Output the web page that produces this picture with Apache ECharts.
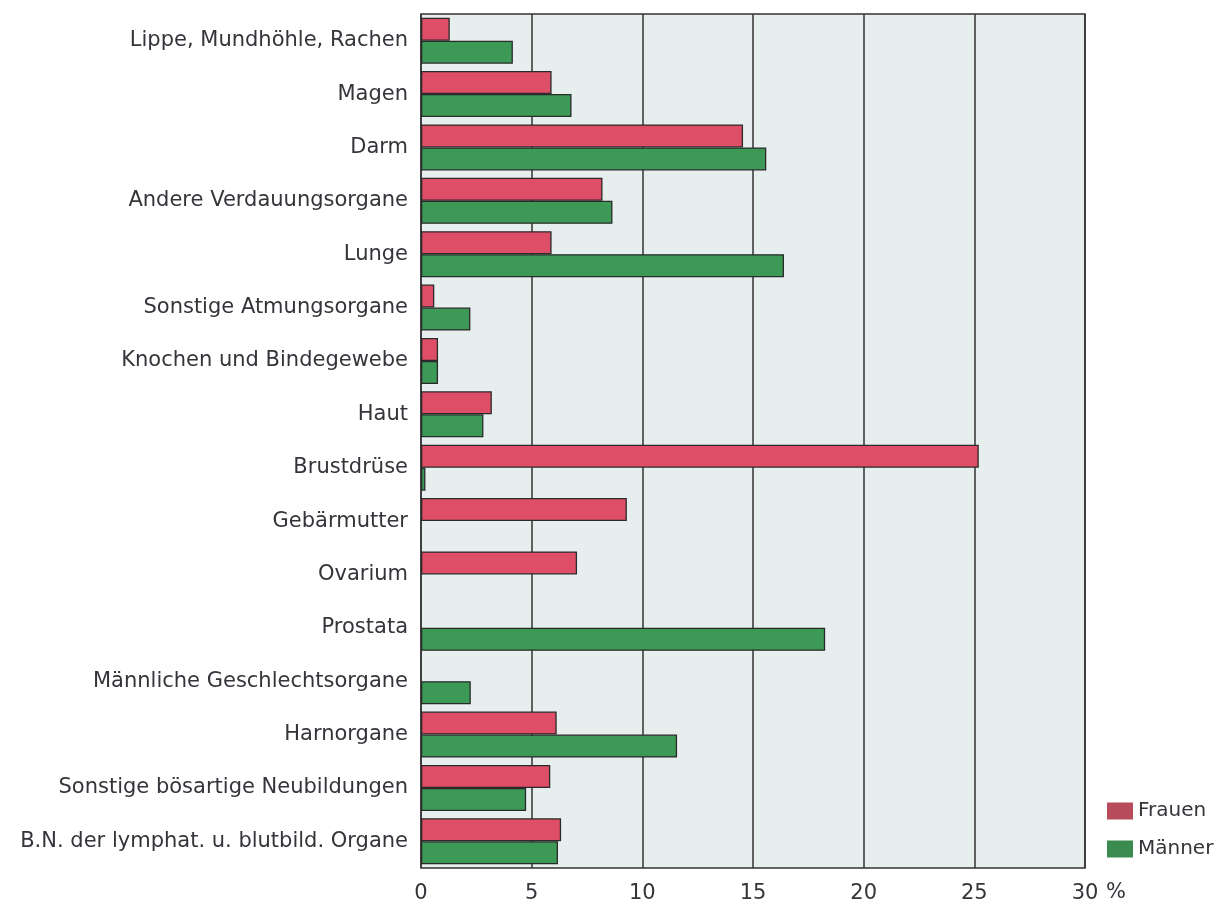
<!DOCTYPE html>
<html>
<head>
<meta charset="utf-8">
<script src="https://cdn.jsdelivr.net/npm/echarts@6/dist/echarts.min.js"></script>
<style>
  html, body { margin: 0; padding: 0; background: #fff; }
  #chart { width: 1219px; height: 905px; }
</style>
</head>
<body>
<div id="chart"></div>
<script>
// Kategorien (von oben nach unten)
var categories = [
    "Lippe, Mundhöhle, Rachen",
    "Magen",
    "Darm",
    "Andere Verdauungsorgane",
    "Lunge",
    "Sonstige Atmungsorgane",
    "Knochen und Bindegewebe",
    "Haut",
    "Brustdrüse",
    "Gebärmutter",
    "Ovarium",
    "Prostata",
    "Männliche Geschlechtsorgane",
    "Harnorgane",
    "Sonstige bösartige Neubildungen",
    "B.N. der lymphat. u. blutbild. Organe"
];

// Anteile in %
var frauen = [1.3, 5.9, 14.55, 8.2, 5.9, 0.6, 0.77, 3.2, 25.2, 9.3, 7.05, null, null, 6.13, 5.84, 6.33];
var maenner = [4.15, 6.8, 15.6, 8.65, 16.4, 2.23, 0.77, 2.82, 0.2, null, null, 18.26, 2.25, 11.57, 4.75, 6.19];

var xTicks = [0, 5, 10, 15, 20, 25, 30];

var myChart = echarts.init(document.getElementById("chart"));

var textColor = "#37333a";
var fontFamily = "DejaVu Sans, sans-serif";
var fontSize = 21;

var option = {
    animation: false,
    textStyle: { fontFamily: fontFamily },
    grid: {
        left: 421,
        right: 134,
        top: 14,
        bottom: 37,
        show: true,
        backgroundColor: "#e6eeee",
        borderColor: "#333",
        borderWidth: 1.5
    },
    legend: {
        orient: "vertical",
        left: 1102,
        top: 796,
        icon: "rect",
        itemWidth: 26,
        itemHeight: 17,
        itemGap: 18,
        textStyle: { color: textColor, fontSize: 20, fontFamily: fontFamily },
        data: [
            { name: "Frauen", itemStyle: { color: "#b84b5b", borderWidth: 0 } },
            { name: "Männer", itemStyle: { color: "#3b8a50", borderWidth: 0 } }
        ]
    },
    xAxis: {
        type: "value",
        min: xTicks[0],
        max: xTicks[xTicks.length - 1],
        interval: 5,
        axisLine: { show: false },
        axisTick: { show: false },
        axisLabel: { color: textColor, fontSize: fontSize, margin: 15 },
        splitLine: { show: true, lineStyle: { color: "#333", width: 1.5 } }
    },
    yAxis: {
        type: "category",
        inverse: true,
        data: categories,
        axisLine: { show: false },
        axisTick: { show: false },
        axisLabel: { color: textColor, fontSize: fontSize, margin: 13, padding: [5, 0, 0, 0] }
    },
    graphic: [
        {
            type: "text",
            left: 1106,
            top: 882,
            style: { text: "%", fill: textColor, font: fontSize + "px " + fontFamily }
        }
    ],
    series: [
        {
            name: "Frauen",
            type: "bar",
            data: frauen,
            barWidth: 23,
            barGap: "0%",
            itemStyle: { color: "#de4f67", borderColor: "#2a2a2a", borderWidth: 1.3 }
        },
        {
            name: "Männer",
            type: "bar",
            data: maenner,
            barWidth: 23,
            barGap: "0%",
            itemStyle: { color: "#3c9a56", borderColor: "#2a2a2a", borderWidth: 1.3 }
        }
    ]
};

myChart.setOption(option);
</script>
</body>
</html>
